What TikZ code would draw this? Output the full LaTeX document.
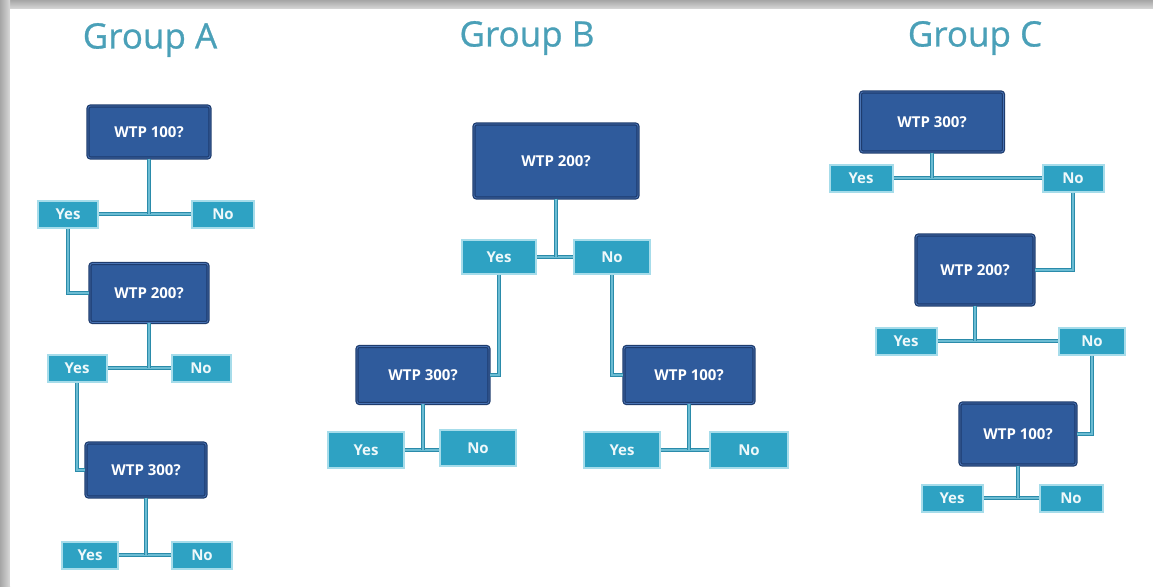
\documentclass[tikz,border=0pt]{standalone}
\usepackage{fontspec}
\setmainfont{Open Sans}
\newfontfamily\titlefont[FakeBold=0.8]{Open Sans}
\usepackage{tikz}
\usetikzlibrary{calc}
\definecolor{qfill}{HTML}{2F5B9C}
\definecolor{qedge}{HTML}{1E3C6E}
\definecolor{qinner}{HTML}{4A74B4}
\definecolor{afill}{HTML}{2EA2C3}
\definecolor{aedge}{HTML}{A6DCEA}
\definecolor{linkc}{HTML}{2A8BAA}
\definecolor{linkl}{HTML}{6BBCD3}
\definecolor{titlec}{HTML}{4AA0B8}

\tikzset{
  qbox/.style={draw=qedge, double=qinner, double distance=0.8pt, line width=1.2pt,
    fill=qfill, rounded corners=2.5pt, text=white, font=\bfseries\fontsize{15}{17}\selectfont},
  abox/.style={draw=aedge, line width=2pt, fill=afill, text=white!92!afill,
    minimum height=27pt, font=\bfseries\fontsize{15}{17}\selectfont},
  link/.style={draw=linkc, double=linkl, double distance=1.4pt, line width=1.6pt},
  grouptitle/.style={text=titlec, font=\titlefont\fontsize{35}{38}\selectfont}
}

\begin{document}
\begin{tikzpicture}[x=1pt,y=-1pt]
  \useasboundingbox (0,0) rectangle (1153,586);
  % frame with shadow
  \fill[gray!45] (0,0) rectangle (1153,586);
  \shade[top color=gray!70, bottom color=gray!30] (0,0) rectangle (1153,9);
  \shade[left color=gray!70, right color=gray!30] (0,0) rectangle (10,586);
  \fill[white] (10,9) rectangle (1153,586);

  % titles
  \node[grouptitle] (tA) at (150,40) {Group A};
  \node[grouptitle] (tB) at (527,38) {Group B};
  \node[grouptitle] (tC) at (975,38) {Group C};

  % Group A
  \node[qbox, minimum width=122pt, minimum height=52pt] (qA1) at (149,132) {WTP 100?};
  \node[abox, minimum width=60pt] (yA1) at (68,214) {Yes};
  \node[abox, minimum width=62pt] (nA1) at (223,214) {No};
  \node[qbox, minimum width=118pt, minimum height=59pt] (qA2) at (149,293) {WTP 200?};
  \node[abox, minimum width=59pt] (yA2) at (77,368) {Yes};
  \node[abox, minimum width=59pt] (nA2) at (201,368) {No};
  \node[qbox, minimum width=120pt, minimum height=54pt] (qA3) at (146,470) {WTP 300?};
  \node[abox, minimum width=56pt] (yA3) at (90,555) {Yes};
  \node[abox, minimum width=60pt] (nA3) at (202,555) {No};

  \draw[link] (yA1.east) -- (nA1.west);
  \draw[link] (qA1.south) -- (qA1.south |- yA1.east);
  \draw[link] (yA1.south) |- (qA2.west);
  \draw[link] (yA2.east) -- (nA2.west);
  \draw[link] (qA2.south) -- (qA2.south |- yA2.east);
  \draw[link] (yA2.south) |- (qA3.west);
  \draw[link] (yA3.east) -- (nA3.west);
  \draw[link] (qA3.south) -- (qA3.south |- yA3.east);

  % Group B
  \node[qbox, minimum width=164pt, minimum height=74pt] (qB1) at (556,161) {WTP 200?};
  \node[abox, minimum width=74pt, minimum height=34pt] (yB1) at (499,257) {Yes};
  \node[abox, minimum width=76pt, minimum height=34pt] (nB1) at (612,257) {No};
  \node[qbox, minimum width=132pt, minimum height=57pt] (qB2) at (423,375) {WTP 300?};
  \node[qbox, minimum width=130pt, minimum height=57pt] (qB3) at (689,375) {WTP 100?};
  \node[abox, minimum width=76pt, minimum height=36pt] (yB2) at (366,450) {Yes};
  \node[abox, minimum width=76pt, minimum height=36pt] (nB2) at (478,448) {No};
  \node[abox, minimum width=76pt, minimum height=36pt] (yB3) at (622,450) {Yes};
  \node[abox, minimum width=78pt, minimum height=36pt] (nB3) at (749,450) {No};

  \draw[link] (yB1.east) -- (nB1.west);
  \draw[link] (qB1.south) -- (qB1.south |- yB1.east);
  \draw[link] (yB1.south) |- (qB2.east);
  \draw[link] (nB1.south) |- (qB3.west);
  \draw[link] (yB2.east) -- (nB2.west |- yB2.east);
  \draw[link] (qB2.south) -- (qB2.south |- yB2.east);
  \draw[link] (yB3.east) -- (nB3.west);
  \draw[link] (qB3.south) -- (qB3.south |- yB3.east);

  % Group C
  \node[qbox, minimum width=143pt, minimum height=60pt] (qC1) at (932,122) {WTP 300?};
  \node[abox, minimum width=63pt] (yC1) at (861,178) {Yes};
  \node[abox, minimum width=61pt] (nC1) at (1073,178) {No};
  \node[qbox, minimum width=118pt, minimum height=70pt] (qC2) at (975,270) {WTP 200?};
  \node[abox, minimum width=61pt] (yC2) at (906,341) {Yes};
  \node[abox, minimum width=66pt] (nC2) at (1092,341) {No};
  \node[qbox, minimum width=116pt, minimum height=62pt] (qC3) at (1018,434) {WTP 100?};
  \node[abox, minimum width=61pt] (yC3) at (952,498) {Yes};
  \node[abox, minimum width=63pt] (nC3) at (1071,498) {No};

  \draw[link] (yC1.east) -- (nC1.west);
  \draw[link] (qC1.south) -- (qC1.south |- yC1.east);
  \draw[link] (nC1.south) |- (qC2.east);
  \draw[link] (yC2.east) -- (nC2.west);
  \draw[link] (qC2.south) -- (qC2.south |- yC2.east);
  \draw[link] (nC2.south) |- (qC3.east);
  \draw[link] (yC3.east) -- (nC3.west);
  \draw[link] (qC3.south) -- (qC3.south |- yC3.east);
\end{tikzpicture}
\end{document}
